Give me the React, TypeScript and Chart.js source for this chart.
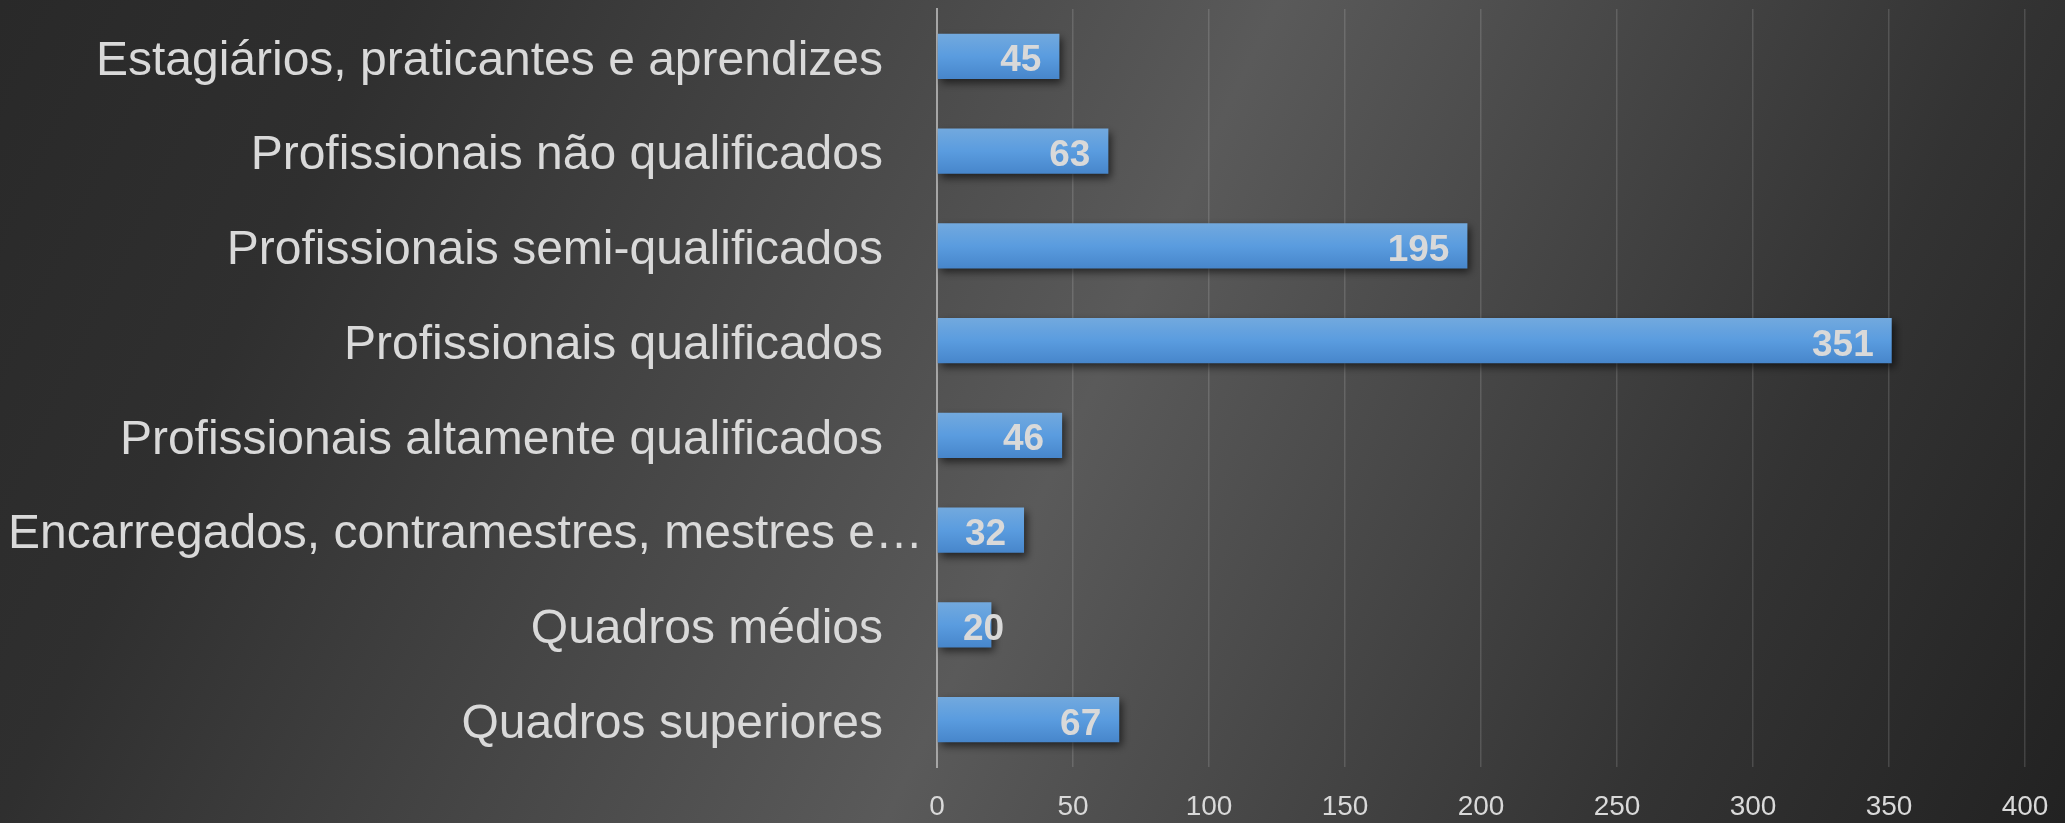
import React, { useEffect, useRef } from "react";
import { Chart, registerables } from "chart.js";

Chart.register(...registerables);

const categories = [
  "Estagiários, praticantes e aprendizes",
  "Profissionais não qualificados",
  "Profissionais semi-qualificados",
  "Profissionais qualificados",
  "Profissionais altamente qualificados",
  "Encarregados, contramestres, mestres e…",
  "Quadros médios",
  "Quadros superiores",
];
const values = [45, 63, 195, 351, 46, 32, 20, 67];
const xMin = 0;
const xMax = 400;
const xStep = 50;

const W = 2065;
const H = 823;
const BAR_PCT = 0.475;
const FONT = "'Liberation Sans', Arial, sans-serif";
const TEXT = "#d9d9d9";

const bgPlugin = {
  id: "bg",
  beforeDraw(chart: any) {
    const { ctx, width, height } = chart;
    const g = ctx.createLinearGradient(0, 0, 1999, 960);
    g.addColorStop(0, "#292929");
    g.addColorStop(0.16, "#2f2f2f");
    g.addColorStop(0.52, "#5a5a5a");
    g.addColorStop(0.82, "#333333");
    g.addColorStop(1, "#222222");
    ctx.save();
    ctx.fillStyle = g;
    ctx.fillRect(0, 0, width, height);
    ctx.restore();
  },
};

const barFxPlugin = {
  id: "barfx",
  beforeDatasetsDraw(chart: any) {
    const ctx = chart.ctx;
    ctx.save();
    ctx.shadowColor = "rgba(0,0,0,0.6)";
    ctx.shadowBlur = 8;
    ctx.shadowOffsetX = 3;
    ctx.shadowOffsetY = 4;
  },
  afterDatasetsDraw(chart: any) {
    const ctx = chart.ctx;
    ctx.restore();
    const meta = chart.getDatasetMeta(0);
    const base = chart.scales.x.getPixelForValue(0);
    ctx.save();
    ctx.font = `bold 37px ${FONT}`;
    ctx.fillStyle = TEXT;
    ctx.textAlign = "right";
    ctx.textBaseline = "alphabetic";
    meta.data.forEach((bar: any, i: number) => {
      const txt = String(values[i]);
      const w = ctx.measureText(txt).width;
      let right = bar.x - 18;
      if (right - w < base + 26) right = base + 26 + w;
      ctx.fillText(txt, right, bar.y + 15);
    });
    ctx.restore();
  },
};

export default function App() {
  const ref = useRef<HTMLCanvasElement | null>(null);

  useEffect(() => {
    if (!ref.current) return;
    const chart = new Chart(ref.current, {
      type: "bar",
      data: {
        labels: categories,
        datasets: [
          {
            data: values,
            barPercentage: BAR_PCT,
            categoryPercentage: 1,
            borderWidth: 0,
            backgroundColor: (c: any) => {
              const ch = c.chart;
              const ys = ch.scales && ch.scales.y;
              if (!ys || c.dataIndex === undefined) return "#5b9bd5";
              const center = ys.getPixelForValue(c.dataIndex);
              const half = ((ys.bottom - ys.top) / categories.length) * BAR_PCT / 2;
              if (!isFinite(center) || !isFinite(half) || half <= 0) return "#5b9bd5";
              const g = ch.ctx.createLinearGradient(0, center - half, 0, center + half);
              g.addColorStop(0, "#72a9de");
              g.addColorStop(0.5, "#5a9cdf");
              g.addColorStop(1, "#4786cb");
              return g;
            },
          },
        ],
      },
      options: {
        indexAxis: "y",
        responsive: false,
        animation: false,
        events: [],
        layout: { padding: { top: 9, right: 40, left: 0, bottom: 0 } },
        plugins: {
          legend: { display: false },
          tooltip: { enabled: false },
          title: { display: false },
        },
        scales: {
          x: {
            min: xMin,
            max: xMax,
            afterFit: (s: any) => {
              s.height = 56;
              s.paddingLeft = 0;
              s.paddingRight = 0;
            },
            ticks: {
              stepSize: xStep,
              color: TEXT,
              font: { family: FONT, size: 28 },
              padding: 23,
            },
            grid: {
              drawTicks: false,
              lineWidth: 1.5,
              color: (c: any) =>
                c.tick && c.tick.value === 0 ? "rgba(0,0,0,0)" : "rgba(255,255,255,0.14)",
            },
            border: { display: false },
          },
          y: {
            afterFit: (s: any) => {
              s.width = 937;
              s.paddingTop = 0;
              s.paddingBottom = 0;
            },
            ticks: {
              color: TEXT,
              font: { family: FONT, size: 48 },
              padding: 14,
              labelOffset: 5,
              autoSkip: false,
              callback: (_v: any, i: number) => {
                const t = categories[i];
                return t.endsWith("…") ? t : t + "   ";
              },
            },
            grid: { display: false, drawTicks: false },
            border: { display: true, color: "#a6a6a6", width: 2 },
          },
        },
      },
      plugins: [bgPlugin, barFxPlugin],
    } as any);
    chart.update();
    return () => chart.destroy();
  }, []);

  return (
    <div style={{ position: "absolute", left: 0, top: 0, width: W, height: H }}>
      <canvas ref={ref} width={W} height={H} style={{ display: "block" }} />
    </div>
  );
}
